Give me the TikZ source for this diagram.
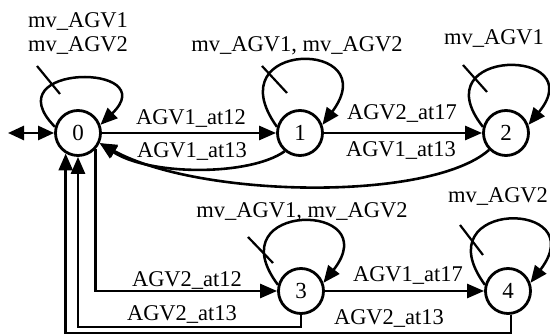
\documentclass[tikz,border=0pt]{standalone}
\usepackage{fontspec}
\setmainfont{Liberation Serif}
\usetikzlibrary{arrows.meta,calc}
\begin{document}
\begin{tikzpicture}[x=1pt,y=-1pt,
  state/.style={circle,draw,line width=2.8pt,minimum size=45pt,inner sep=0pt,font=\fontsize{23}{26}\selectfont},
  lbl/.style={anchor=base,inner sep=0pt,font=\fontsize{22.5}{26}\selectfont},
  edge/.style={line width=2.6pt,-{Triangle[length=17pt,width=14pt]}},
  loopedge/.style={line width=2.5pt,-{Triangle[length=17pt,width=14pt]}},
  tickmark/.style={line width=2.2pt}]
\useasboundingbox (0,0) rectangle (550,336);

% states
\node[state] (n0) at (78,133) {0};
\node[state] (n1) at (300,133) {1};
\node[state] (n2) at (506,133) {2};
\node[state] (n3) at (301,291) {3};
\node[state] (n4) at (508,291) {4};

% initial / marked arrow
\coordinate (init) at (8,133);
\draw[line width=2.6pt,{Triangle[length=16pt,width=14pt]}-{Triangle[length=16pt,width=14pt]}] (init) -- (n0.west);

% self loops
\draw[loopedge] (n0.165) .. controls +(-63,-64) and +(64,-62) .. (n0.20);
\draw[loopedge] (n1.165) .. controls +(-63,-88) and +(64,-86) .. (n1.20);
\draw[loopedge] (n2.165) .. controls +(-63,-80) and +(64,-78) .. (n2.20);
\draw[loopedge] (n3.165) .. controls +(-63,-84) and +(64,-82) .. (n3.20);
\draw[loopedge] (n4.165) .. controls +(-63,-86) and +(64,-84) .. (n4.20);

% tick marks on self loops
\draw[tickmark] ($(n0)+(-41,-67)$) -- ($(n0)+(-18,-39)$);
\draw[tickmark] ($(n1)+(-38,-67)$) -- ($(n1)+(-13,-40)$);
\draw[tickmark] ($(n2)+(-43,-68)$) -- ($(n2)+(-19,-41)$);
\draw[tickmark] ($(n3)+(-53,-54)$) -- ($(n3)+(-28,-28)$);
\draw[tickmark] ($(n4)+(-48,-66)$) -- ($(n4)+(-25,-36)$);

% loop labels
\node[lbl] (l0a) at (78,28) {mv\_AGV1};
\node[lbl] (l0b) at (78,52) {mv\_AGV2};
\node[lbl] (l1) at (297,52) {mv\_AGV1, mv\_AGV2};
\node[lbl] (l2) at (494,45) {mv\_AGV1};
\node[lbl] (l3) at (302,218) {mv\_AGV1, mv\_AGV2};
\node[lbl] (l4) at (498,203) {mv\_AGV2};

% transitions
\draw[edge] (n0.east) -- (n1.west);
\draw[edge] (n1.east) -- (n2.west);
\draw[edge] (n3.east) -- (n4.west);
\draw[edge] (n1.-130) .. controls (250,176) and (150,176) .. (n0.-25);
\draw[edge] (n2.-135) .. controls (430,202) and (200,198) .. (n0.-25);
\draw[edge] (n0.-42) |- (n3.west);
\draw[edge] (n3.south) -- ++(0,12) -| (n0.south);
\coordinate (b4) at (0,333);
\draw[edge] (n4.-83) -- (n4.-83 |- b4) -| (n0.-121);

% transition labels
\node[lbl] (t1) at (191,125) {AGV1\_at12};
\node[lbl] (t2) at (192,158) {AGV1\_at13};
\node[lbl] (t3) at (402,120) {AGV2\_at17};
\node[lbl] (t4) at (401,157) {AGV1\_at13};
\node[lbl] (t5) at (408,282) {AGV1\_at17};
\node[lbl] (t6) at (187,287) {AGV2\_at12};
\node[lbl] (t7) at (182,321) {AGV2\_at13};
\node[lbl] (t8) at (389,325) {AGV2\_at13};
\end{tikzpicture}
\end{document}
